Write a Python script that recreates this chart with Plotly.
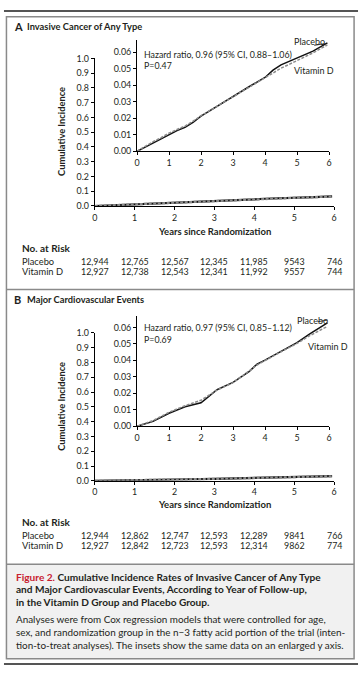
import plotly.graph_objects as go

W, H = 362, 673

# ---------------- data ----------------
years = [0, 1, 2, 3, 4, 5, 6]

cancer_t = [0, 0.25, 0.5, 0.75, 1.0, 1.25, 1.5, 1.75, 2.0, 2.5, 3.0, 3.5, 4.0, 4.25, 4.5, 5.0, 5.5, 5.95]
cancer_placebo = [0, 0.0025, 0.0050, 0.0078, 0.0105, 0.0125, 0.0145, 0.0175, 0.0212, 0.0272, 0.0333,
                  0.0390, 0.0446, 0.0490, 0.0522, 0.0564, 0.0605, 0.0655]
cancer_vitd = [0, 0.0030, 0.0058, 0.0082, 0.0110, 0.0132, 0.0152, 0.0182, 0.0215, 0.0272, 0.0330,
               0.0388, 0.0446, 0.0475, 0.0502, 0.0548, 0.0595, 0.0643]

cv_t = [0, 0.25, 0.5, 1.0, 1.5, 2.0, 2.25, 2.5, 3.0, 3.25, 3.5, 3.75, 4.0, 4.5, 5.0, 5.4, 5.95]
cv_placebo = [0, 0.0015, 0.0030, 0.0079, 0.0119, 0.0143, 0.0185, 0.0222, 0.0266, 0.0300, 0.0332,
              0.0377, 0.0401, 0.0455, 0.0507, 0.0560, 0.0628]
cv_vitd = [0, 0.0018, 0.0035, 0.0085, 0.0125, 0.0158, 0.0190, 0.0220, 0.0265, 0.0298, 0.0335,
           0.0372, 0.0400, 0.0452, 0.0503, 0.0550, 0.0606]

# main (full-scale) panel B curve as drawn
cv_main_t = [0, 1, 2, 3, 4, 5, 5.95]
cv_main_placebo = [0, 0.006, 0.009, 0.013, 0.019, 0.025, 0.032]
cv_main_vitd = [0, 0.006, 0.009, 0.013, 0.019, 0.025, 0.031]

risk_cancer_placebo = ["12,944", "12,765", "12,567", "12,345", "11,985", "9543", "746"]
risk_cancer_vitd = ["12,927", "12,738", "12,543", "12,341", "11,992", "9557", "744"]
risk_cv_placebo = ["12,944", "12,862", "12,747", "12,593", "12,289", "9841", "766"]
risk_cv_vitd = ["12,927", "12,842", "12,723", "12,593", "12,314", "9862", "774"]

main_yticks = [0.0, 0.1, 0.2, 0.3, 0.4, 0.5, 0.6, 0.7, 0.8, 0.9, 1.0]
inset_yticks = [0.00, 0.01, 0.02, 0.03, 0.04, 0.05, 0.06]

# ---------------- style ----------------
FONT = "Lato"
TXT = "#231f20"
PLC = "#111111"
VTD = "#8c8c8c"


def X(px):
    return px / W


def Y(py):
    return 1 - py / H


fig = go.Figure()


def add_pair(t, p, v, xa, ya, width):
    fig.add_trace(go.Scatter(x=t, y=p, mode="lines", xaxis=xa, yaxis=ya,
                             line=dict(color=PLC, width=width), showlegend=False, hoverinfo="skip"))
    fig.add_trace(go.Scatter(x=t, y=v, mode="lines", xaxis=xa, yaxis=ya,
                             line=dict(color=VTD, width=width, dash="3px,1.5px"), showlegend=False,
                             hoverinfo="skip"))


add_pair(cancer_t, cancer_placebo, cancer_vitd, "x", "y", 2.2)
add_pair(cancer_t, cancer_placebo, cancer_vitd, "x2", "y2", 1.5)
add_pair(cv_main_t, cv_main_placebo, cv_main_vitd, "x3", "y3", 2.2)
add_pair(cv_t, cv_placebo, cv_vitd, "x4", "y4", 1.5)

tickfont = dict(family=FONT, size=8.9, color=TXT)
common = dict(showgrid=False, zeroline=False, showline=True, linecolor="black", linewidth=1,
              ticks="outside", ticklen=3, tickwidth=1, tickcolor="black", tickfont=tickfont,
              fixedrange=True)


def main_axes(xname, yname, ytop, ybot):
    fig.layout[xname] = dict(domain=[X(93.3), X(336.7)], range=[0, 6], tickvals=years,
                             anchor=yname.replace("axis", ""), **common)
    fig.layout[yname] = dict(domain=[Y(ybot), Y(ytop)], range=[0, 1], tickvals=main_yticks,
                             tickformat=".1f", anchor=xname.replace("axis", ""), **common)


def inset_axes(xname, yname, ytop_axis, ybot):
    fig.layout[xname] = dict(domain=[X(136.3), X(331.5)], range=[0, 6], tickvals=years,
                             anchor=yname.replace("axis", ""), **common)
    fig.layout[yname] = dict(domain=[Y(ybot), Y(ytop_axis)], range=[0, 0.067], tickvals=inset_yticks,
                             tickformat=".2f", anchor=xname.replace("axis", ""), **common)


main_axes("xaxis", "yaxis", 53.3, 203.3)
inset_axes("xaxis2", "yaxis2", 35.0, 147.7)
main_axes("xaxis3", "yaxis3", 332.3, 482.7)
inset_axes("xaxis4", "yaxis4", 315.0, 427.3)

ann = []


def text(x, y, s, size=9, bold=False, xanchor="left", color=TXT, xref="paper", angle=0):
    if bold:
        s = "<b>" + s + "</b>"
    ann.append(dict(x=x, y=y, xref=xref, yref="paper", text=s, showarrow=False,
                    xanchor=xanchor, yanchor="middle", textangle=angle,
                    font=dict(family=FONT, size=size, color=color)))


def panel_text(y0, letter, title, hr, p, plc_y, vtd_y, vtd_x, plc_x, axis_title_y, risk_p, risk_v):
    # panel title
    text(X(9.0), Y(y0), letter, size=11, bold=True)
    text(X(22.7), Y(y0), title, size=9.3, bold=True)
    # hazard ratio
    text(X(141.5), Y(y0 + 28.8), hr, size=8.8)
    text(X(141.5), Y(y0 + 40.2), p, size=8.8)
    # series labels
    text(X(plc_x), Y(plc_y), "Placebo", size=9)
    text(X(vtd_x), Y(vtd_y), "Vitamin D", size=9)
    # y axis title
    text(X(60), Y(axis_title_y), "Cumulative Incidence", size=9.3, bold=True, xanchor="center", angle=-90)
    # x axis title
    text(X(215), Y(y0 + 208.5), "Years since Randomization", size=9.5, bold=True, xanchor="center")
    # risk table
    text(X(17.5), Y(y0 + 226), "No. at Risk", size=10, bold=True)
    text(X(17.5), Y(y0 + 239.5), "Placebo", size=9.3)
    text(X(17.5), Y(y0 + 249.8), "Vitamin D", size=9.3)
    for i, yr in enumerate(years):
        ann.append(dict(x=yr, y=Y(y0 + 239.5), xref="x", yref="paper", text=risk_p[i], showarrow=False,
                        xanchor="center", yanchor="middle", font=dict(family=FONT, size=8.9, color=TXT)))
        ann.append(dict(x=yr, y=Y(y0 + 249.8), xref="x", yref="paper", text=risk_v[i], showarrow=False,
                        xanchor="center", yanchor="middle", font=dict(family=FONT, size=8.9, color=TXT)))


panel_text(20.5, "A", "Invasive Cancer of Any Type",
           "Hazard ratio, 0.96 (95% CI, 0.88\u20131.06)", "P=0.47",
           36, 66, 294, 294, 128, risk_cancer_placebo, risk_cancer_vitd)
panel_text(298.5, "B", "Major Cardiovascular Events",
           "Hazard ratio, 0.97 (95% CI, 0.85\u20131.12)", "P=0.69",
           319.5, 346.5, 308, 296.5, 407.5, risk_cv_placebo, risk_cv_vitd)

# caption
cap_bold = ["<span style='color:#c8202f'>Figure 2.</span> Cumulative Incidence Rates of Invasive Cancer of Any Type",
            "and Major Cardiovascular Events, According to Year of Follow-up,",
            "in the Vitamin D Group and Placebo Group."]
cap_reg = ["Analyses were from Cox regression models that were controlled for age,",
           "sex, and randomization group in the n\u22123 fatty acid portion of the trial (inten-",
           "tion-to-treat analyses). The insets show the same data on an enlarged y axis."]
for i, s in enumerate(cap_bold):
    text(X(11.5), Y(580 + 12.9 * i), s, size=10.1, bold=True)
for i, s in enumerate(cap_reg):
    text(X(11.5), Y(622.7 + 13.3 * i), s, size=9.9)

fig.update_layout(annotations=ann)

shapes = []
GR = "#8a8a8a"
# top and bottom rules
shapes.append(dict(type="line", xref="paper", yref="paper", x0=X(1), x1=X(361), y0=Y(5), y1=Y(5),
                   line=dict(color="#555555", width=2)))
shapes.append(dict(type="line", xref="paper", yref="paper", x0=X(1), x1=X(361), y0=Y(669), y1=Y(669),
                   line=dict(color="#555555", width=2)))
# caption background
shapes.append(dict(type="rect", xref="paper", yref="paper", x0=X(3.5), x1=X(357), y0=Y(567.5), y1=Y(663.5),
                   fillcolor="#f1f1f1", line=dict(width=0), layer="below"))
# box
shapes.append(dict(type="rect", xref="paper", yref="paper", x0=X(3.5), x1=X(357), y0=Y(11), y1=Y(663.5),
                   line=dict(color=GR, width=1.5)))
# separators
for yy in (288.3, 567.5):
    shapes.append(dict(type="line", xref="paper", yref="paper", x0=X(3.5), x1=X(357), y0=Y(yy), y1=Y(yy),
                       line=dict(color=GR, width=1.5)))
# leader lines for Placebo labels
shapes.append(dict(type="line", xref="paper", yref="paper", x0=X(316.5), x1=X(327), y0=Y(40), y1=Y(38.3),
                   line=dict(color=PLC, width=0.8)))
shapes.append(dict(type="line", xref="paper", yref="paper", x0=X(320), x1=X(330), y0=Y(321), y1=Y(319.3),
                   line=dict(color=PLC, width=0.8)))

fig.update_layout(shapes=shapes, width=W, height=H, autosize=False,
                  margin=dict(l=0, r=0, t=0, b=0),
                  paper_bgcolor="white", plot_bgcolor="rgba(0,0,0,0)")

fig.write_html("out.html", config={"displayModeBar": False},
               post_script="document.body.style.margin='0px';document.body.style.overflow='hidden';")
